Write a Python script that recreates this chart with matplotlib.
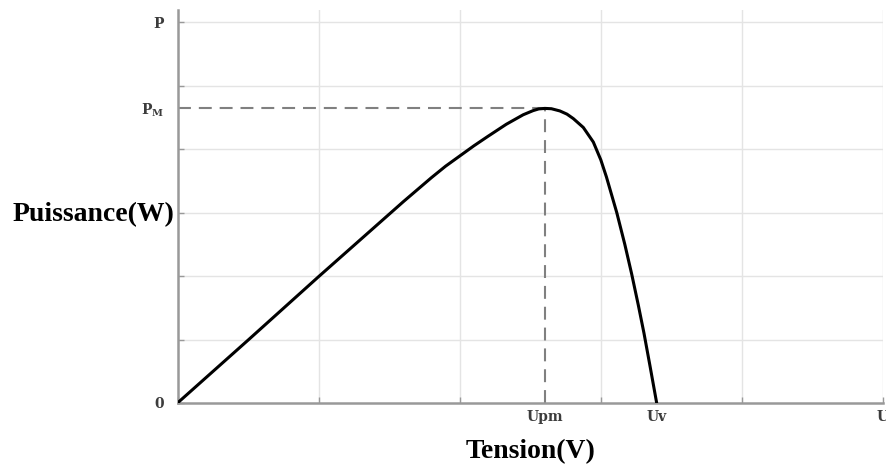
import matplotlib
matplotlib.use('Agg')
import matplotlib.pyplot as plt

# P-V curve of a PV panel (grid units)
tension = [0, 0.5, 1.0, 1.6, 1.8, 1.9, 2.0, 2.1, 2.2, 2.33, 2.45, 2.52, 2.56, 2.605, 2.65,
           2.71, 2.76, 2.805, 2.876, 2.947, 3.0, 3.04, 3.113, 3.17, 3.219, 3.266,
           3.306, 3.349, 3.396]
puissance = [0, 0.99, 1.99, 3.17, 3.55, 3.73, 3.89, 4.05, 4.20, 4.39, 4.54, 4.605, 4.632, 4.64, 4.635,
             4.60, 4.55, 4.48, 4.34, 4.11, 3.83, 3.56, 3.00, 2.50, 2.03, 1.54,
             1.10, 0.58, 0]

u_pm, p_m, u_v = 2.605, 4.64, 3.396
x_grid = [0, 1, 2, 3, 4, 5]
y_grid = [0, 1, 2, 3, 4, 5, 6]
x_ticks = [0, 1, 2, u_pm, 3, u_v, 4, 5]
x_tick_labels = ['', '', '', 'Upm', '', 'Uv', '', 'U']
y_ticks = [0, 1, 2, 3, 4, p_m, 5, 6]
y_tick_labels = ['0', '', '', '', '', 'P$_\\mathregular{M}$', '', 'P']

plt.rcParams['font.family'] = ['Liberation Serif', 'DejaVu Serif']
plt.rcParams['mathtext.fontset'] = 'custom'
plt.rcParams['mathtext.rm'] = 'DejaVu Serif:bold'

fig = plt.figure(figsize=(8.86, 4.66), dpi=100)
ax = fig.add_axes([177.5 / 886, 63 / 466, 705.5 / 886, 393 / 466])

grid_color = '#e4e4e4'
for x in x_grid[1:]:
    ax.axvline(x, color=grid_color, lw=1, zorder=0)
for y in y_grid[1:]:
    ax.axhline(y, color=grid_color, lw=1, zorder=0)

dash = (0, (6.2, 3.8))
ax.plot([0, u_pm], [p_m, p_m], color='#808080', lw=1.5, ls=dash, zorder=2)
ax.plot([u_pm, u_pm], [0, p_m], color='#808080', lw=1.5, ls=dash, zorder=2)
ax.plot(tension, puissance, color='black', lw=2.2, solid_capstyle='round',
        solid_joinstyle='round', zorder=3)

ax.set_xlim(0, 5.0)
ax.set_ylim(0, 6.19)

for side in ['top', 'right']:
    ax.spines[side].set_visible(False)
for side in ['left', 'bottom']:
    ax.spines[side].set_color('#999999')
    ax.spines[side].set_linewidth(1.8)

ax.set_xticks(x_ticks)
ax.set_xticklabels(x_tick_labels)
ax.set_yticks(y_ticks)
ax.set_yticklabels(y_tick_labels)
ax.tick_params(direction='in', length=4, width=1, color='#999999',
               labelsize=10, labelcolor='#3c3c3c')
ax.tick_params(axis='x', pad=5)
ax.tick_params(axis='y', pad=10)
for lbl in ax.get_xticklabels() + ax.get_yticklabels():
    lbl.set_family('DejaVu Serif')
    lbl.set_fontweight('bold')

# no tick marks where only a label sits
for tick, pos in zip(ax.xaxis.get_major_ticks(), x_ticks):
    if pos not in x_grid:
        tick.tick1line.set_markersize(0)
for tick, pos in zip(ax.yaxis.get_major_ticks(), y_ticks):
    if pos not in y_grid:
        tick.tick1line.set_markersize(0)

fig.text(13 / 886, 1 - 215 / 466, 'Puissance(W)', fontsize=20, fontweight='bold',
         ha='left', va='center')
fig.text(531 / 886, 1 - 452 / 466, 'Tension(V)', fontsize=20, fontweight='bold',
         ha='center', va='center')

fig.savefig('out.png', dpi=100)
